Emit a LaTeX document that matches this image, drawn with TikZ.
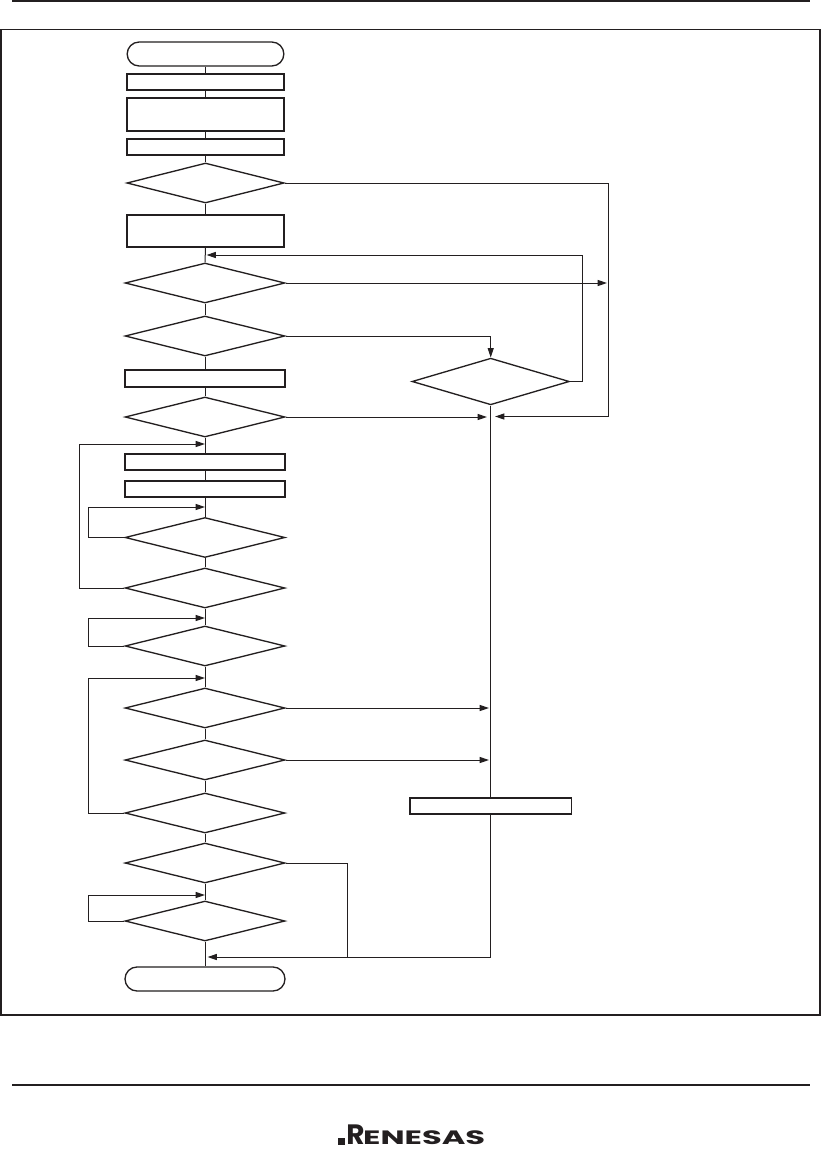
\documentclass[tikz,border=0pt]{standalone}
\usepackage{fontspec}
\setmainfont{Poppins}
\usetikzlibrary{shapes.geometric,shapes.misc,arrows.meta}
\definecolor{ink}{HTML}{231F20}
\tikzset{
  x=0.75pt,y=-0.75pt,
  every path/.style={color=ink},
  boxnode/.style={draw=ink,fill=white,line width=1.25pt,inner sep=0pt,minimum height=#1,minimum width=120pt},
  boxwide/.style={boxnode=#1,minimum width=118pt},
  decide/.style={draw=ink,fill=white,diamond,line width=1pt,inner sep=0pt,minimum width=120pt,minimum height=30pt},
  term/.style={draw=ink,fill=white,rounded rectangle,line width=1pt,inner sep=0pt,minimum width=#1,minimum height=18pt},
  conn/.style={draw=ink,line width=0.75pt},
  flow/.style={conn,-{Triangle[length=7pt,width=4.5pt]}},
  rule/.style={draw=ink,line width=1.9pt},
}
\begin{document}
\begin{tikzpicture}
\useasboundingbox (0,0) rectangle (821,1149);
\fill[white] (0,0) rectangle (821,1149);
\coordinate (r1a) at (12,1); \coordinate (r1b) at (810,1);
\coordinate (r2a) at (12,1085); \coordinate (r2b) at (810,1085);
\draw[rule] (r1a) -- (r1b);
\draw[rule] (r2a) -- (r2b);
\draw[conn,line width=0.9pt] (1,29.5) rectangle (820,1015);

% main column
\node[term=117.5pt] (start) at (205.5,54) {};
\node[boxwide=12pt] (b1) at (205.5,82) {};
\node[boxwide=24.75pt] (b2) at (205.5,114.5) {};
\node[boxwide=12pt] (b3) at (205.5,147) {};
\node[decide,minimum width=118pt] (d1) at (205.5,183) {};
\node[boxwide=24pt] (b4) at (205.5,231) {};
\node[decide] (d2) at (205,283) {};
\node[decide] (d3) at (205,336) {};
\node[boxnode=12.75pt] (b5) at (205,378.5) {};
\node[decide] (d4) at (205,417) {};
\node[boxnode=12pt] (b6) at (205,462) {};
\node[boxnode=12pt] (b7) at (205,489) {};
\node[decide] (d5) at (205,537.5) {};
\node[decide] (d6) at (205,588) {};
\node[decide] (d7) at (205,646) {};
\node[decide] (d8) at (205,708) {};
\node[decide] (d9) at (205,760) {};
\node[decide] (d10) at (205,813) {};
\node[decide] (d11) at (205,863) {};
\node[decide] (d12) at (205,921) {};
\node[term=120pt] (stop) at (205,979) {};
% right column
\node[decide,minimum width=118pt,minimum height=35pt] (d13) at (490.7,381.5) {};
\node[boxnode=12pt,minimum width=121pt] (b8) at (490.7,806) {};

% junction and corner points
\coordinate (ja) at (206.5,255);
\coordinate (jb) at (607,283);
\coordinate (jc) at (495,416.5);
\coordinate (jd) at (487,417);
\coordinate (je) at (205,444);
\coordinate (jf) at (205,507);
\coordinate (jg) at (205,618);
\coordinate (jh) at (205,678);
\coordinate (ji) at (489,708);
\coordinate (jj) at (489,760);
\coordinate (jk) at (205,895);
\coordinate (jl) at (207.5,957);
\coordinate (jm) at (490.7,957);
\coordinate (jn) at (347,957);

% vertical chain
\foreach \a/\b in {start/b1,b1/b2,b2/b3,b3/d1,d1/b4,b4/d2,d2/d3,d3/b5,b5/d4,d4/b6,b6/b7,b7/d5,d5/d6,d6/d7,d7/d8,d8/d9,d9/d10,d10/d11,d11/d12,d12/stop}
  \draw[conn] (\a.south) -- (\b.north);
\draw[conn] (d13.south) -- (b8.north);
\draw[conn] (b8.south) -- (jm);

% right side flows
\draw[flow] (d1.east) -- (608,183) -- (608,416.5) -- (jc);
\draw[flow] (d2.east) -- (jb);
\draw[flow] (d3.east) -- (490.7,336) -- (d13.north);
\draw[flow] (d13.east) -- (582,381.5) -- (582,255) -- (ja);
\draw[flow] (d4.east) -- (jd);
\draw[flow] (d8.east) -- (ji);
\draw[flow] (d9.east) -- (jj);
\draw[conn] (d11.east) -- (347,863) -- (jn);
\draw[flow] (jm) -- (jl);

% left side loops
\draw[flow] (d5.west) -- (88,537.5) -- (88,507) -- (jf);
\draw[flow] (d6.west) -- (79,588) -- (79,444) -- (je);
\draw[flow] (d7.west) -- (88,646) -- (88,618) -- (jg);
\draw[flow] (d10.west) -- (88,813) -- (88,678) -- (jh);
\draw[flow] (d12.west) -- (88,921) -- (88,895) -- (jk);

% logo
\fill[ink] (338,1137.5) rectangle (344.5,1144.5);
\node[anchor=base west,inner sep=0pt,text=ink] (logo) at (346,1144.5) {\bfseries{\fontsize{21pt}{21pt}\selectfont R}\hspace{-1pt}\scalebox{1.66}[1]{\fontsize{14.5pt}{15pt}\selectfont ENESAS}};
\end{tikzpicture}
\end{document}
